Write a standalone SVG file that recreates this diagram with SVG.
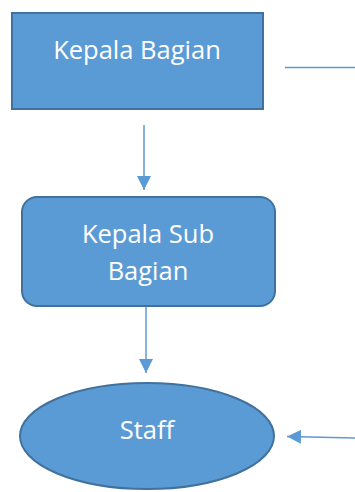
<svg xmlns="http://www.w3.org/2000/svg" width="355" height="492" viewBox="0 0 355 492">
<style>
.shape{fill:#5b9bd5;stroke:#41719c;stroke-width:2}
.lbl{font-family:"Open Sans","Liberation Sans",sans-serif;font-size:25.5px;fill:#ffffff;text-anchor:middle}
.conn{stroke:#5b9bd5;stroke-width:1.5;fill:none}
</style>
<defs>
<marker id="ah" viewBox="0 0 10 10" refX="10" refY="5" markerWidth="14" markerHeight="14" markerUnits="userSpaceOnUse" orient="auto">
<path d="M0,0 L10,5 L0,10 Z" fill="#5b9bd5"/>
</marker>
</defs>
<rect width="355" height="492" fill="#ffffff"/>
<g id="connectors">
<line class="conn" x1="144" y1="125" x2="144" y2="190" marker-end="url(#ah)"/>
<line class="conn" x1="146" y1="307" x2="146" y2="373" marker-end="url(#ah)"/>
<line class="conn" x1="285" y1="67.5" x2="355" y2="67.5"/>
<line class="conn" x1="355" y1="438" x2="287" y2="436.5" marker-end="url(#ah)"/>
</g>
<g id="kepala-bagian">
<rect class="shape" x="12" y="13" width="251" height="96"/>
<text class="lbl" x="137" y="59">Kepala Bagian</text>
</g>
<g id="kepala-sub-bagian">
<rect class="shape" x="22" y="197" width="253" height="109" rx="15" ry="15"/>
<text class="lbl" x="148" y="243">Kepala Sub</text>
<text class="lbl" x="148" y="280">Bagian</text>
</g>
<g id="staff">
<ellipse class="shape" cx="147" cy="436" rx="127" ry="53"/>
<text class="lbl" x="147" y="439">Staff</text>
</g>
</svg>
